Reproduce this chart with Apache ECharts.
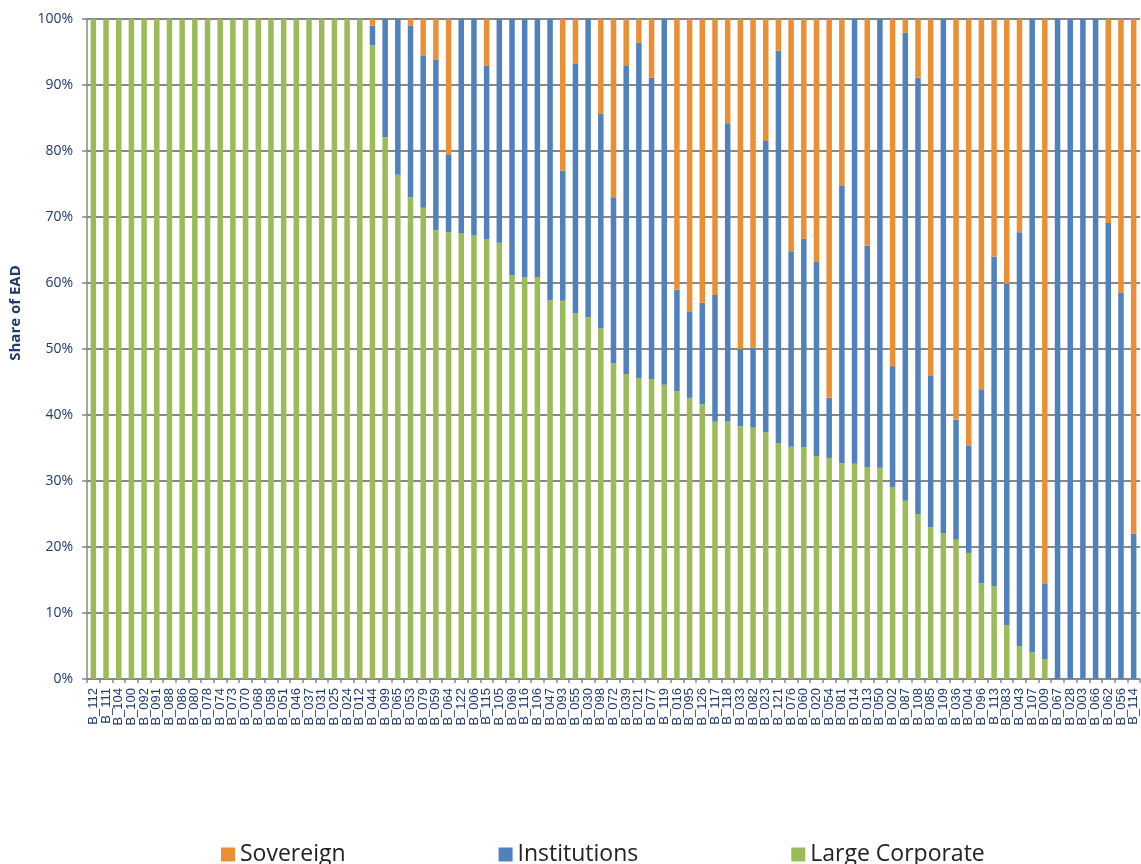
<!DOCTYPE html>
<html>
<head>
<meta charset="utf-8">
<script src="https://cdn.jsdelivr.net/npm/echarts@6/dist/echarts.min.js"></script>
<style>
  html, body { margin: 0; padding: 0; background: #fff; }
  #chart { width: 1141px; height: 864px; }
</style>
</head>
<body>
<div id="chart"></div>
<script>
// banks, sorted by share of large corporate exposure
const categories = [
  'B_112', 'B_111', 'B_104', 'B_100', 'B_092', 'B_091', 'B_088', 'B_086', 'B_080', 'B_078',
  'B_074', 'B_073', 'B_070', 'B_068', 'B_058', 'B_051', 'B_046', 'B_037', 'B_031', 'B_025',
  'B_024', 'B_012', 'B_044', 'B_099', 'B_065', 'B_053', 'B_079', 'B_059', 'B_064', 'B_122',
  'B_006', 'B_115', 'B_105', 'B_069', 'B_116', 'B_106', 'B_047', 'B_093', 'B_055', 'B_030',
  'B_098', 'B_072', 'B_039', 'B_021', 'B_077', 'B_119', 'B_016', 'B_095', 'B_126', 'B_117',
  'B_118', 'B_033', 'B_082', 'B_023', 'B_121', 'B_076', 'B_060', 'B_020', 'B_054', 'B_081',
  'B_014', 'B_013', 'B_050', 'B_002', 'B_087', 'B_108', 'B_085', 'B_109', 'B_036', 'B_004',
  'B_096', 'B_113', 'B_083', 'B_043', 'B_107', 'B_009', 'B_067', 'B_028', 'B_003', 'B_066',
  'B_062', 'B_056', 'B_114'
]

// share of EAD in percent
const largeCorporate = [
  100, 100, 100, 100, 100, 100, 100, 100, 100, 100,
  100, 100, 100, 100, 100, 100, 100, 100, 100, 100,
  100, 100, 96, 82.1, 76.4, 73.0, 71.4, 68.0, 67.7, 67.5,
  67.2, 66.6, 66.1, 61.2, 60.9, 60.9, 57.4, 57.3, 55.4, 54.8,
  53.1, 47.8, 46.2, 45.6, 45.4, 44.6, 43.6, 42.6, 41.6, 39.0,
  39.0, 38.3, 38.1, 37.4, 35.7, 35.2, 35.1, 33.8, 33.5, 32.7,
  32.6, 32.1, 32.0, 29.1, 27.0, 25.0, 23.0, 22.1, 21.1, 19.1,
  14.5, 14.1, 8.2, 5.0, 4.0, 3.0, 0, 0, 0, 0,
  0, 0, 0
]
const institutions = [
  0, 0, 0, 0, 0, 0, 0, 0, 0, 0,
  0, 0, 0, 0, 0, 0, 0, 0, 0, 0,
  0, 0, 3, 17.9, 23.6, 26.0, 23.0, 25.8, 11.8, 32.5,
  32.8, 26.3, 33.9, 38.8, 39.1, 39.1, 42.6, 19.7, 37.8, 45.2,
  32.5, 25.2, 46.8, 50.8, 45.7, 55.4, 15.4, 13.0, 15.4, 19.2,
  45.2, 11.7, 12.1, 44.1, 59.5, 29.6, 31.6, 29.4, 9.1, 42.1,
  67.4, 33.6, 68.0, 18.3, 70.9, 66.1, 22.9, 77.9, 18.2, 16.3,
  29.4, 49.9, 51.7, 62.7, 96.0, 11.4, 100, 100, 100, 100,
  69.1, 58.5, 22.0
]
const sovereign = [
  0, 0, 0, 0, 0, 0, 0, 0, 0, 0,
  0, 0, 0, 0, 0, 0, 0, 0, 0, 0,
  0, 0, 1, 0, 0, 1.0, 5.6, 6.2, 20.5, 0,
  0, 7.1, 0, 0, 0, 0, 0, 23.0, 6.8, 0,
  14.4, 27.0, 7.0, 3.6, 8.9, 0, 41.0, 44.4, 43.0, 41.8,
  15.8, 50.0, 49.8, 18.5, 4.8, 35.2, 33.3, 36.8, 57.4, 25.2,
  0, 34.3, 0, 52.6, 2.1, 8.9, 54.1, 0, 60.7, 64.6,
  56.1, 36.0, 40.1, 32.3, 0, 85.6, 0, 0, 0, 0,
  30.9, 41.5, 78.0
]

const navy = '#1F3A70'
const gray = '#888888'

const myChart = echarts.init(document.getElementById('chart'))

const option = {
  animation: false,
  backgroundColor: '#fff',
  grid: {
    left: 82,
    right: 1,
    top: 19,
    bottom: 185,
  },
  legend: {
    data: ['Sovereign', 'Institutions', 'Large Corporate'],
    left: 216,
    top: 838,
    icon: 'rect',
    itemWidth: 14,
    itemHeight: 14,
    itemGap: 153,
    textStyle: {
      fontFamily: 'Open Sans',
      fontSize: 23,
      color: '#222'
    }
  },
  xAxis: {
    type: 'category',
    data: categories,
    axisLine: {lineStyle: {color: gray, width: 1.5}},
    axisTick: {show: true, length: 4, lineStyle: {color: gray, width: 1.5}},
    axisLabel: {
      interval: 0,
      rotate: 90,
      margin: 9,
      fontFamily: 'Liberation Sans',
      fontSize: 13,
      color: navy
    }
  },
  yAxis: {
    type: 'value',
    min: 0,
    max: 100,
    interval: 10,
    name: 'Share of EAD',
    nameLocation: 'middle',
    nameGap: 64,
    nameRotate: 90,
    nameTextStyle: {
      fontFamily: 'Open Sans',
      fontWeight: 'bold',
      fontSize: 15,
      color: navy,
      padding: [0, 0, 0, 72]
    },
    axisLine: {show: true, lineStyle: {color: gray, width: 1.5}},
    axisTick: {show: true, length: 5, lineStyle: {color: gray, width: 1.5}},
    splitLine: {lineStyle: {color: gray, width: 2}},
    axisLabel: {
      formatter: '{value}%',
      margin: 14,
      fontFamily: 'Open Sans',
      fontSize: 14,
      color: navy
    }
  },
  series: [
    {
      name: 'Large Corporate',
      type: 'bar',
      stack: 'ead',
      barWidth: 5.5,
      data: largeCorporate,
      itemStyle: {color: '#9BBB59'}
    },
    {
      name: 'Institutions',
      type: 'bar',
      stack: 'ead',
      barWidth: 5.5,
      data: institutions,
      itemStyle: {color: '#4F81BD'}
    },
    {
      name: 'Sovereign',
      type: 'bar',
      stack: 'ead',
      barWidth: 5.5,
      data: sovereign,
      itemStyle: {color: '#EB8F34'}
    }
  ]
}

myChart.setOption(option)
</script>
</body>
</html>
